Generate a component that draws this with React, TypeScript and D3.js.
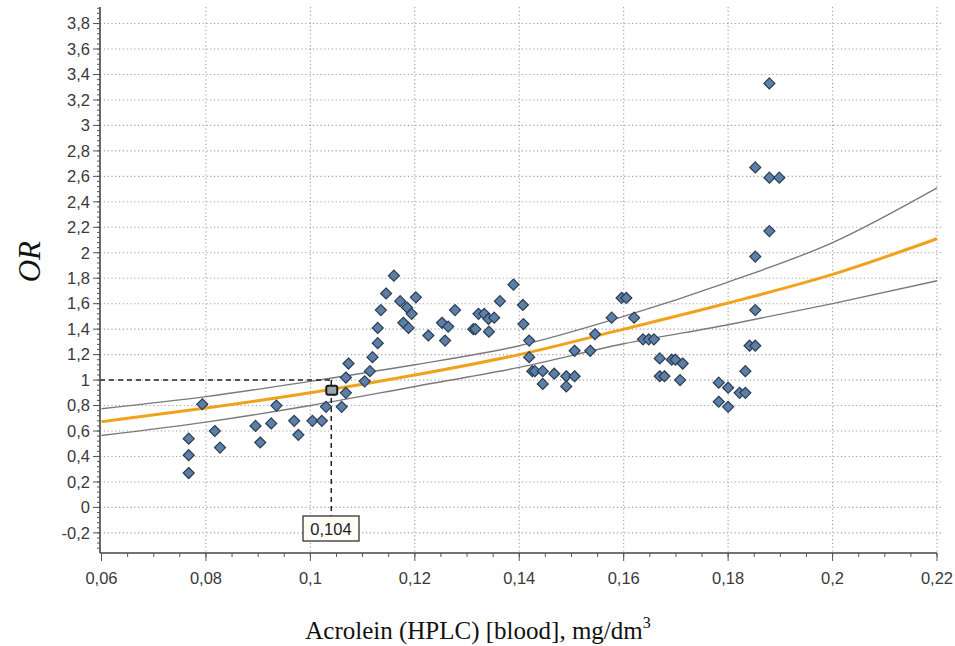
import { useMemo } from "react";
import * as d3 from "d3";

// scatter points
const acrolein = [
  0.0767, 0.0767, 0.0767, 0.0793, 0.0817, 0.0827, 0.0895, 0.0904, 0.0925, 0.0935,
  0.0969, 0.0977, 0.1004, 0.1022, 0.103, 0.106, 0.1068, 0.1068, 0.1073, 0.1104,
  0.1114, 0.1119, 0.1129, 0.1129, 0.1135, 0.1145, 0.116, 0.1172, 0.1178, 0.1185,
  0.1188, 0.1194, 0.1202, 0.1226, 0.1252, 0.1258, 0.1264, 0.1277, 0.1312, 0.1316,
  0.1322, 0.1333, 0.1341, 0.1342, 0.1352, 0.1363, 0.1389, 0.1407, 0.1408, 0.1419,
  0.1419, 0.1425, 0.143, 0.1445, 0.1445, 0.1467, 0.149, 0.149, 0.1506, 0.1506,
  0.1536, 0.1545, 0.1577, 0.1596, 0.1605, 0.162, 0.1637, 0.1648, 0.1658, 0.1669,
  0.1669, 0.1678, 0.1692, 0.1699, 0.1713, 0.1708, 0.1782, 0.1782, 0.18, 0.18,
  0.1822, 0.1833, 0.1833, 0.1841, 0.1852, 0.1852, 0.1852, 0.1879, 0.1852, 0.1879,
  0.1898, 0.1879,
];
const oddsRatio = [
  0.54, 0.41, 0.27, 0.81, 0.6, 0.47, 0.64, 0.51, 0.66, 0.8,
  0.68, 0.57, 0.68, 0.68, 0.79, 0.79, 0.9, 1.02, 1.13, 0.99,
  1.07, 1.18, 1.29, 1.41, 1.55, 1.68, 1.82, 1.62, 1.45, 1.57,
  1.41, 1.52, 1.65, 1.35, 1.45, 1.31, 1.42, 1.55, 1.4, 1.4,
  1.52, 1.52, 1.48, 1.38, 1.49, 1.62, 1.75, 1.59, 1.44, 1.31,
  1.18, 1.07, 1.07, 1.07, 0.97, 1.05, 1.03, 0.95, 1.03, 1.23,
  1.23, 1.36, 1.49, 1.645, 1.645, 1.49, 1.32, 1.32, 1.32, 1.17,
  1.03, 1.03, 1.16, 1.16, 1.13, 1.0, 0.98, 0.83, 0.94, 0.79,
  0.9, 0.9, 1.07, 1.27, 1.27, 1.55, 1.97, 2.17, 2.67, 2.59,
  2.59, 3.33,
];

// fitted curve and confidence band
const curveX = [0.06, 0.08, 0.1, 0.12, 0.14, 0.16, 0.18, 0.2, 0.22];
const fitOR = [0.674, 0.78, 0.9, 1.04, 1.2, 1.4, 1.605, 1.83, 2.11];
const upperOR = [0.775, 0.87, 0.99, 1.12, 1.27, 1.5, 1.77, 2.08, 2.51];
const lowerOR = [0.565, 0.67, 0.8, 0.95, 1.1, 1.285, 1.435, 1.6, 1.78];

const cutoffX = [0.104];
const cutoffOR = [0.92];
const cutoffLabel = ["0,104"];

const xTicks = [0.06, 0.08, 0.1, 0.12, 0.14, 0.16, 0.18, 0.2, 0.22];
const yTicks = [-0.2, 0, 0.2, 0.4, 0.6, 0.8, 1, 1.2, 1.4, 1.6, 1.8, 2, 2.2, 2.4, 2.6, 2.8, 3, 3.2, 3.4, 3.6, 3.8];

const W = 955;
const H = 646;
const LEFT = 100;
const RIGHT = 937;
const TOP = 7;
const BOTTOM = 553;

const fmt = (v: number) => String(+v.toFixed(3)).replace(".", ",");

const App = () => {
  const x = d3.scaleLinear().domain([0.06, 0.22]).range([LEFT + 1.5, RIGHT]);
  const y = d3.scaleLinear().domain([-0.358, 3.93]).range([BOTTOM, TOP]);

  const line = useMemo(
    () =>
      d3
        .line<[number, number]>()
        .x((d) => x(d[0]))
        .y((d) => y(d[1]))
        .curve(d3.curveMonotoneX),
    []
  );
  const mk = (vals: number[]) => line(curveX.map((c, i) => [c, vals[i]] as [number, number])) || "";

  const xMinor = d3.range(0.06, 0.2201, 0.005);
  const yMinor = d3.range(-0.32, 3.93, 0.04);

  const cx = x(cutoffX[0]);
  const one = y(1);

  return (
    <svg width={W} height={H} style={{ position: "absolute", left: 0, top: 0, background: "#fff" }}>
      {/* grid */}
      <g stroke="#a0a0a0" strokeWidth={1.1} strokeDasharray="1.2,2.6">
        {yTicks.map((t) => (
          <line key={"gy" + t} x1={LEFT} x2={RIGHT + 4} y1={y(t)} y2={y(t)} />
        ))}
        {xTicks.slice(1).map((t) => (
          <line key={"gx" + t} x1={x(t)} x2={x(t)} y1={TOP} y2={BOTTOM} />
        ))}
      </g>

      {/* confidence band and fit */}
      <path d={mk(upperOR)} fill="none" stroke="#7a7a7a" strokeWidth={1.4} />
      <path d={mk(lowerOR)} fill="none" stroke="#7a7a7a" strokeWidth={1.4} />
      <path d={mk(fitOR)} fill="none" stroke="#f0a21c" strokeWidth={3} />

      {/* cutoff dashed guides */}
      <g stroke="#222" strokeWidth={1.5} strokeDasharray="5,4" fill="none">
        <line x1={LEFT} x2={cx} y1={one} y2={one} />
        <line x1={cx} x2={cx} y1={one} y2={516} />
      </g>

      {/* points */}
      {acrolein.map((a, i) => {
        const px = x(a);
        const py = y(oddsRatio[i]);
        const r = 5.5;
        return (
          <path
            key={i}
            d={`M${px},${py - r}L${px + r},${py}L${px},${py + r}L${px - r},${py}Z`}
            fill="#5b7fa6"
            stroke="#2b3c52"
            strokeWidth={1.2}
          />
        );
      })}

      <rect
        x={x(cutoffX[0]) - 5}
        y={y(cutoffOR[0]) - 4.5}
        width={11}
        height={9}
        rx={2}
        fill="#9aa4ad"
        stroke="#1a1a1a"
        strokeWidth={2}
      />

      {/* axes */}
      <g stroke="#444" strokeWidth={1.6}>
        <line x1={LEFT} x2={LEFT} y1={TOP} y2={BOTTOM} />
        <line x1={LEFT} x2={RIGHT} y1={BOTTOM} y2={BOTTOM} />
      </g>
      <g stroke="#555" strokeWidth={1}>
        {yMinor.map((t) => (
          <line key={"ym" + t} x1={LEFT - 3} x2={LEFT} y1={y(t)} y2={y(t)} />
        ))}
        {yTicks.map((t) => (
          <line key={"yt" + t} x1={LEFT - 7} x2={LEFT} y1={y(t)} y2={y(t)} />
        ))}
        {xMinor.map((t) => (
          <line key={"xm" + t} x1={x(t)} x2={x(t)} y1={BOTTOM} y2={BOTTOM + 4} />
        ))}
        {xTicks.map((t) => (
          <line key={"xt" + t} x1={x(t)} x2={x(t)} y1={BOTTOM} y2={BOTTOM + 8} />
        ))}
      </g>

      <g fontFamily="'Liberation Sans', Arial, sans-serif" fontSize={16.5} fill="#3a3a3a">
        {yTicks.map((t) => (
          <text key={"yl" + t} x={LEFT - 10} y={y(t)} dy="0.35em" textAnchor="end">
            {fmt(t)}
          </text>
        ))}
        {xTicks.map((t) => (
          <text key={"xl" + t} x={x(t)} y={BOTTOM + 31} textAnchor="middle">
            {fmt(t)}
          </text>
        ))}
      </g>

      {/* cutoff label */}
      <rect x={303} y={516} width={56} height={25} fill="#fffdf6" stroke="#333" strokeWidth={1.3} />
      <text
        x={331}
        y={534.5}
        textAnchor="middle"
        fontFamily="'Liberation Sans', Arial, sans-serif"
        fontSize={16.5}
        fill="#222"
      >
        {cutoffLabel[0]}
      </text>

      {/* titles */}
      <text
        transform={`translate(40,${y(1.93)}) rotate(-90)`}
        textAnchor="middle"
        fontFamily="'Liberation Serif', 'Times New Roman', serif"
        fontStyle="italic"
        fontSize={31}
        fill="#111"
      >
        OR
      </text>
      <text
        x={478}
        y={639}
        textAnchor="middle"
        fontFamily="'Liberation Serif', 'Times New Roman', serif"
        fontSize={25}
        fill="#111"
      >
        Acrolein (HPLC) [blood], mg/dm
        <tspan dy={-11} fontSize={16}>
          3
        </tspan>
      </text>
    </svg>
  );
};

export default App;
